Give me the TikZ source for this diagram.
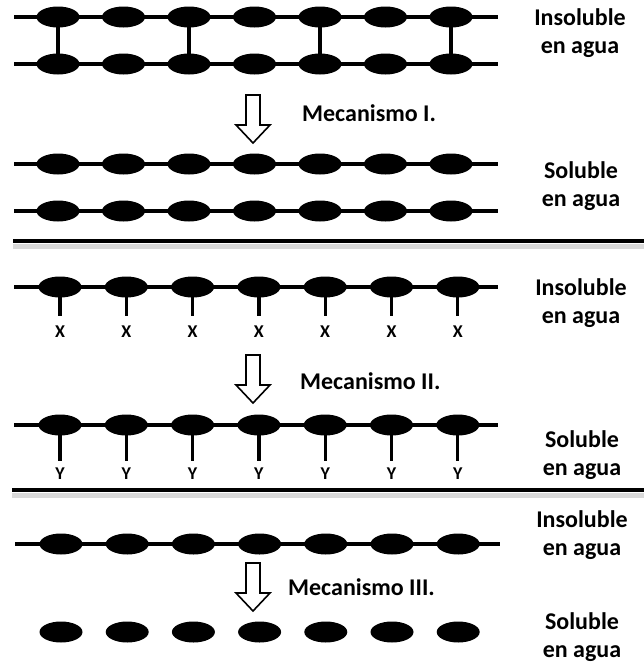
\documentclass[tikz,border=0pt]{standalone}
\usepackage{fontspec}
\setmainfont{Carlito}
\usetikzlibrary{shapes.geometric}
\begin{document}
\begin{tikzpicture}[x=1pt,y=-1pt,
  bead/.style={ellipse, fill=black, minimum width=43pt, minimum height=21pt, inner sep=0pt},
  chainline/.style={line width=3.2pt},
  linkline/.style={line width=3.2pt},
  lbl/.style={font=\bfseries\fontsize{24}{28}\selectfont, align=center, inner sep=0pt},
  mech/.style={font=\bfseries\fontsize{24}{28}\selectfont, anchor=west, inner sep=0pt},
  subl/.style={font=\bfseries\fontsize{18}{18}\selectfont, inner sep=0pt},
  sepline/.style={line width=4.5pt},
  sepshadow/.style={line width=5pt, black!15},
  openarrow/.pic={\draw[line width=1.6pt, fill=white, line join=miter]
     (-7,0) -- (7,0) -- (7,30) -- (17,30) -- (0,48) -- (-17,30) -- (-7,30) -- cycle;}
]
\useasboundingbox (0,0) rectangle (644,665);

% ---------- Panel 1 ----------
\foreach \r/\y in {a/17, b/64, c/164, d/211}{
  \coordinate (\r s) at (14,\y);
  \coordinate (\r e) at (498,\y);
  \draw[chainline] (\r s) -- (\r e);
  \foreach \i in {0,...,6}{
    \node[bead] (\r\i) at ({58+65.5*\i},\y) {};
  }
}
\foreach \i in {0,2,4,6}{ \draw[linkline] (a\i.center) -- (b\i.center); }

\node[lbl] (t1) at (580,33) {Insoluble\\en agua};
\node[lbl] (t2) at (581,186) {Soluble\\en agua};
\pic at (253,95) {openarrow};
\node[mech] (m1) at (302,113) {Mecanismo I.};

% separator 1
\coordinate (s1a) at (13,241);
\coordinate (s1b) at (644,241);
\draw[sepshadow] (13,246) -- (644,246);
\draw[sepline] (s1a) -- (s1b);

% ---------- Panel 2 ----------
\coordinate (es) at (14,287);
\coordinate (ee) at (498,287);
\draw[chainline] (es) -- (ee);
\foreach \i in {0,...,6}{
  \node[bead] (e\i) at ({60+66.3*\i},287) {};
  \coordinate (ex\i) at ({60+66.3*\i},316);
  \draw[linkline] (e\i.center) -- (ex\i);
  \node[subl] (x\i) at ({60+66.3*\i},332) {X};
}
\node[lbl] (t3) at (581,303) {Insoluble\\en agua};
\pic at (253,355) {openarrow};
\node[mech] (m2) at (300,381) {Mecanismo II.};

\coordinate (fs) at (14,425);
\coordinate (fe) at (498,425);
\draw[chainline] (fs) -- (fe);
\foreach \i in {0,...,6}{
  \node[bead] (f\i) at ({60+66.3*\i},425) {};
  \coordinate (fy\i) at ({60+66.3*\i},461);
  \draw[linkline] (f\i.center) -- (fy\i);
  \node[subl] (y\i) at ({60+66.3*\i},474) {Y};
}
\node[lbl] (t4) at (582,455) {Soluble\\en agua};

% separator 2
\coordinate (s2a) at (12,490);
\coordinate (s2b) at (644,490);
\draw[sepshadow] (12,495) -- (644,495);
\draw[sepline] (s2a) -- (s2b);

% ---------- Panel 3 ----------
\coordinate (gs) at (15,544);
\coordinate (ge) at (500,544);
\draw[chainline] (gs) -- (ge);
\foreach \i in {0,...,6}{
  \node[bead] (g\i) at ({61+66.2*\i},544) {};
  \node[bead] (h\i) at ({61+66.2*\i},632) {};
}
\node[lbl] (t5) at (582,535) {Insoluble\\en agua};
\pic at (253,563) {openarrow};
\node[mech] (m3) at (288,587) {Mecanismo III.};
\node[lbl] (t6) at (582,637) {Soluble\\en agua};
\end{tikzpicture}
\end{document}
